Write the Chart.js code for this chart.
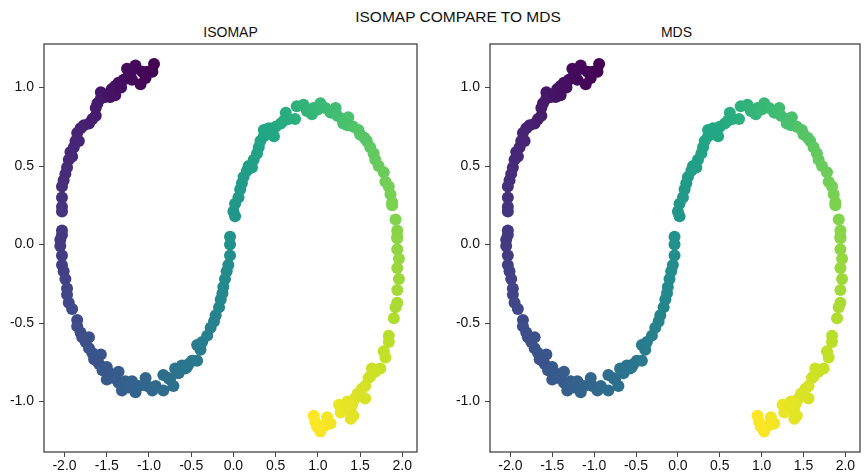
<!DOCTYPE html>
<html>
<head>
<meta charset="utf-8">
<script src="https://cdn.jsdelivr.net/npm/chart.js@4.4.1/dist/chart.umd.min.js"></script>
<style>
  html, body { margin: 0; padding: 0; background: #fff; }
  body { width: 866px; height: 475px; position: relative; overflow: hidden; font-family: "Liberation Sans", Arial, sans-serif; color: #111; }
  .suptitle { position: absolute; left: 0; width: 916px; top: 8px; text-align: center; font-size: 15.5px; }
  .subtitle { position: absolute; top: 24px; font-size: 14px; text-align: center; width: 373px; }
  canvas { position: absolute; top: 0; }
</style>
</head>
<body>
<div class="suptitle">ISOMAP COMPARE TO MDS</div>
<div class="subtitle" style="left:44px">ISOMAP</div>
<div class="subtitle" style="left:490px">MDS</div>
<canvas id="chart-isomap" width="446" height="475" style="left:0"></canvas>
<canvas id="chart-mds" width="420" height="475" style="left:446px"></canvas>
<script>
/* S-curve embedding (both panels show the same points) */

const curveX = [
  -0.94, -0.96, -1.02, -1.04, -1.10, -1.16, -1.20, -1.26, -1.24, -1.30, -1.36, -1.40, -1.44, -1.40, -1.46, -1.52, -1.57, -1.57, -1.61, -1.63,
  -1.63, -1.67, -1.71, -1.77, -1.81, -1.85, -1.83, -1.87, -1.89, -1.93, -1.91, -1.95, -1.97, -1.99, -2.01, -2.03, -2.03, -2.03, -2.03, -2.03,
  -2.03, -2.05, -2.05, -2.03, -2.03, -2.01, -1.99, -1.97, -1.97, -1.95, -1.91, -1.85, -1.85, -1.81, -1.79, -1.71, -1.75, -1.71, -1.67, -1.65,
  -1.57, -1.59, -1.55, -1.50, -1.46, -1.50, -1.40, -1.36, -1.36, -1.32, -1.28, -1.24, -1.20, -1.16, -1.12, -1.04, -1.02, -0.96, -0.92, -0.83,
  -0.83, -0.77, -0.71, -0.69, -0.65, -0.61, -0.57, -0.53, -0.49, -0.43, -0.43, -0.39, -0.37, -0.31, -0.27, -0.23, -0.21, -0.17, -0.15, -0.13,
  -0.12, -0.10, -0.08, -0.06, -0.04, -0.04, -0.04, 0.02, 0.00, 0.02, 0.06, 0.08, 0.10, 0.12, 0.16, 0.18, 0.22, 0.24, 0.28, 0.30,
  0.32, 0.36, 0.36, 0.42, 0.48, 0.50, 0.56, 0.60, 0.62, 0.73, 0.75, 0.83, 0.87, 0.93, 0.95, 1.03, 1.09, 1.15, 1.21, 1.23,
  1.29, 1.36, 1.35, 1.42, 1.48, 1.50, 1.58, 1.62, 1.66, 1.68, 1.72, 1.78, 1.80, 1.84, 1.86, 1.88, 1.88, 1.92, 1.94, 1.94,
  1.94, 1.94, 1.96, 1.94, 1.96, 1.94, 1.94, 1.92, 1.90, 1.84, 1.84, 1.78, 1.80, 1.74, 1.68, 1.64, 1.60, 1.56, 1.52, 1.56,
  1.50, 1.44, 1.41, 1.35, 1.39, 1.42, 1.39, 1.31, 1.27, 1.25, 1.11, 1.15, 1.09, 1.03, 0.99, 0.95, 0.97,
  -1.20, -1.08, -1.33, -1.48, 0.45, 0.65, 1.00, 1.30, 1.55, -1.62, -1.42, -1.25, -0.75, -0.55, 1.47, 1.62, 1.33
];

const curveY = [
  1.15, 1.10, 1.10, 1.06, 1.02, 1.14, 1.11, 1.12, 1.08, 1.05, 1.03, 1.01, 0.99, 0.95, 0.94, 0.94, 0.97, 0.93, 0.90, 0.87,
  0.82, 0.80, 0.77, 0.76, 0.74, 0.71, 0.66, 0.66, 0.62, 0.59, 0.56, 0.54, 0.49, 0.45, 0.41, 0.37, 0.30, 0.24, 0.21, 0.09,
  0.06, 0.03, -0.01, -0.07, -0.13, -0.17, -0.22, -0.28, -0.32, -0.37, -0.41, -0.48, -0.52, -0.56, -0.59, -0.59, -0.62, -0.66, -0.69, -0.73,
  -0.70, -0.76, -0.80, -0.78, -0.82, -0.86, -0.84, -0.81, -0.88, -0.93, -0.87, -0.91, -0.87, -0.94, -0.90, -0.85, -0.90, -0.93, -0.90, -0.93,
  -0.83, -0.85, -0.90, -0.79, -0.82, -0.77, -0.79, -0.76, -0.74, -0.74, -0.64, -0.67, -0.62, -0.58, -0.53, -0.49, -0.45, -0.40, -0.35, -0.31,
  -0.27, -0.22, -0.17, -0.13, -0.07, 0.00, 0.05, 0.18, 0.21, 0.26, 0.30, 0.35, 0.39, 0.43, 0.47, 0.50, 0.49, 0.54, 0.58, 0.62,
  0.66, 0.69, 0.73, 0.74, 0.69, 0.75, 0.77, 0.79, 0.84, 0.80, 0.88, 0.89, 0.85, 0.83, 0.87, 0.90, 0.87, 0.84, 0.87, 0.82,
  0.80, 0.81, 0.76, 0.75, 0.73, 0.70, 0.66, 0.62, 0.58, 0.54, 0.50, 0.46, 0.40, 0.37, 0.32, 0.27, 0.25, 0.16, 0.09, 0.05,
  0.04, -0.03, -0.09, -0.15, -0.22, -0.29, -0.37, -0.40, -0.47, -0.58, -0.62, -0.68, -0.72, -0.79, -0.81, -0.79, -0.85, -0.90, -0.92, -0.98,
  -0.95, -0.98, -1.01, -1.00, -1.04, -1.09, -1.11, -1.05, -1.07, -1.02, -1.10, -1.14, -1.15, -1.19, -1.16, -1.09, -1.13,
  1.05, 1.10, 1.00, 0.96, 0.72, 0.80, 0.86, 0.77, 0.68, -0.74, -0.85, -0.90, -0.86, -0.78, -0.95, -0.84, -1.03
];

// colour value of each point (position along the curve, purple end to yellow end)
const curveT = [
  -4.76, -4.75, -4.69, -4.67, -4.61, -4.57, -4.53, -4.49, -4.49, -4.43, -4.38, -4.34, -4.30, -4.32, -4.26, -4.21, -4.18, -4.16, -4.11, -4.08,
  -4.06, -4.01, -3.97, -3.92, -3.88, -3.83, -3.82, -3.79, -3.75, -3.71, -3.69, -3.66, -3.61, -3.57, -3.53, -3.48, -3.43, -3.37, -3.34, -3.23,
  -3.20, -3.17, -3.14, -3.08, -3.01, -2.97, -2.93, -2.86, -2.82, -2.77, -2.72, -2.63, -2.59, -2.54, -2.50, -2.45, -2.45, -2.39, -2.34, -2.30,
  -2.25, -2.24, -2.18, -2.14, -2.08, -2.09, -2.01, -1.99, -1.95, -1.90, -1.88, -1.83, -1.79, -1.74, -1.70, -1.62, -1.59, -1.53, -1.49, -1.38,
  -1.36, -1.30, -1.25, -1.19, -1.16, -1.10, -1.07, -1.01, -0.96, -0.91, -0.84, -0.83, -0.78, -0.70, -0.63, -0.57, -0.52, -0.45, -0.40, -0.35,
  -0.30, -0.24, -0.19, -0.14, -0.07, 0.00, 0.05, 0.18, 0.20, 0.26, 0.31, 0.36, 0.41, 0.46, 0.51, 0.55, 0.56, 0.61, 0.68, 0.72,
  0.77, 0.82, 0.85, 0.90, 0.92, 0.98, 1.05, 1.10, 1.14, 1.25, 1.30, 1.38, 1.42, 1.49, 1.51, 1.60, 1.67, 1.74, 1.80, 1.84,
  1.91, 1.99, 1.99, 2.09, 2.16, 2.20, 2.29, 2.36, 2.42, 2.48, 2.53, 2.61, 2.68, 2.73, 2.79, 2.85, 2.87, 2.97, 3.04, 3.09,
  3.10, 3.17, 3.23, 3.30, 3.36, 3.44, 3.51, 3.55, 3.63, 3.74, 3.78, 3.86, 3.87, 3.96, 4.01, 4.03, 4.10, 4.15, 4.19, 4.19,
  4.22, 4.29, 4.33, 4.38, 4.36, 4.34, 4.38, 4.42, 4.47, 4.48, 4.61, 4.58, 4.64, 4.69, 4.72, 4.76, 4.74,
  -4.53, -4.64, -4.37, -4.24, 0.93, 1.16, 1.57, 1.95, 2.24, -2.28, -2.04, -1.84, -1.29, -1.06, 4.22, 4.08, 4.41
];

const xTicks = [-2.0, -1.5, -1.0, -0.5, 0.0, 0.5, 1.0, 1.5, 2.0];
const yTicks = [-1.0, -0.5, 0.0, 0.5, 1.0];

// viridis colour stops
const VIRIDIS = ['#440154', '#482475', '#414487', '#355f8d', '#2a788e', '#21918c', '#22a884', '#44bf70', '#7ad151', '#bddf26', '#fde725'];

function viridis(f) {
  f = Math.max(0, Math.min(1, f));
  const pos = f * (VIRIDIS.length - 1);
  const i = Math.min(Math.floor(pos), VIRIDIS.length - 2);
  const k = pos - i;
  const a = parseInt(VIRIDIS[i].slice(1), 16), b = parseInt(VIRIDIS[i + 1].slice(1), 16);
  const mix = sh => Math.round(((a >> sh) & 255) * (1 - k) + ((b >> sh) & 255) * k);
  return `rgb(${mix(16)},${mix(8)},${mix(0)})`;
}

const tMin = Math.min(...curveT), tMax = Math.max(...curveT);
const pointColors = curveT.map(t => viridis((t - tMin) / (tMax - tMin)));

const frame = {
  id: 'frame',
  afterDraw(chart) {
    const { ctx, chartArea: a } = chart;
    ctx.save();
    ctx.strokeStyle = '#444';
    ctx.lineWidth = 1.3;
    ctx.strokeRect(a.left, a.top, a.right - a.left, a.bottom - a.top);
    ctx.restore();
  },
};

function buildPanel(canvasId, padRight) {
  const pts = curveX.map((x, i) => ({ x, y: curveY[i] }));
  const tickFont = { family: '"Liberation Sans", Arial, sans-serif', size: 14 };
  return new Chart(document.getElementById(canvasId), {
    type: 'scatter',
    data: {
      datasets: [{
        data: pts,
        backgroundColor: pointColors,
        borderWidth: 0,
        pointRadius: 6,
        pointHoverRadius: 6,
      }],
    },
    options: {
      responsive: false,
      animation: false,
      devicePixelRatio: 1,
      layout: { padding: { top: 44, right: padRight, left: 0, bottom: 0 } },
      plugins: { legend: { display: false }, tooltip: { enabled: false } },
      scales: {
        x: {
          min: -2.243, max: 2.174,
          afterBuildTicks: s => { s.ticks = xTicks.map(v => ({ value: v })); },
          afterFit: s => { s.height = 23; },
          grid: { drawOnChartArea: false, drawTicks: true, tickLength: 5, color: '#444' },
          border: { display: false },
          ticks: { color: '#111', font: tickFont, padding: 1, maxRotation: 0, callback: v => v.toFixed(1) },
        },
        y: {
          min: -1.321, max: 1.277,
          afterBuildTicks: s => { s.ticks = yTicks.map(v => ({ value: v })); },
          afterFit: s => { s.width = 44; },
          grid: { drawOnChartArea: false, drawTicks: true, tickLength: 5, color: '#444' },
          border: { display: false },
          ticks: { color: '#111', font: tickFont, padding: 5, callback: v => v.toFixed(1) },
        },
      },
    },
    plugins: [frame],
  });
}

buildPanel('chart-isomap', 29);
buildPanel('chart-mds', 4);
</script>
</body>
</html>
